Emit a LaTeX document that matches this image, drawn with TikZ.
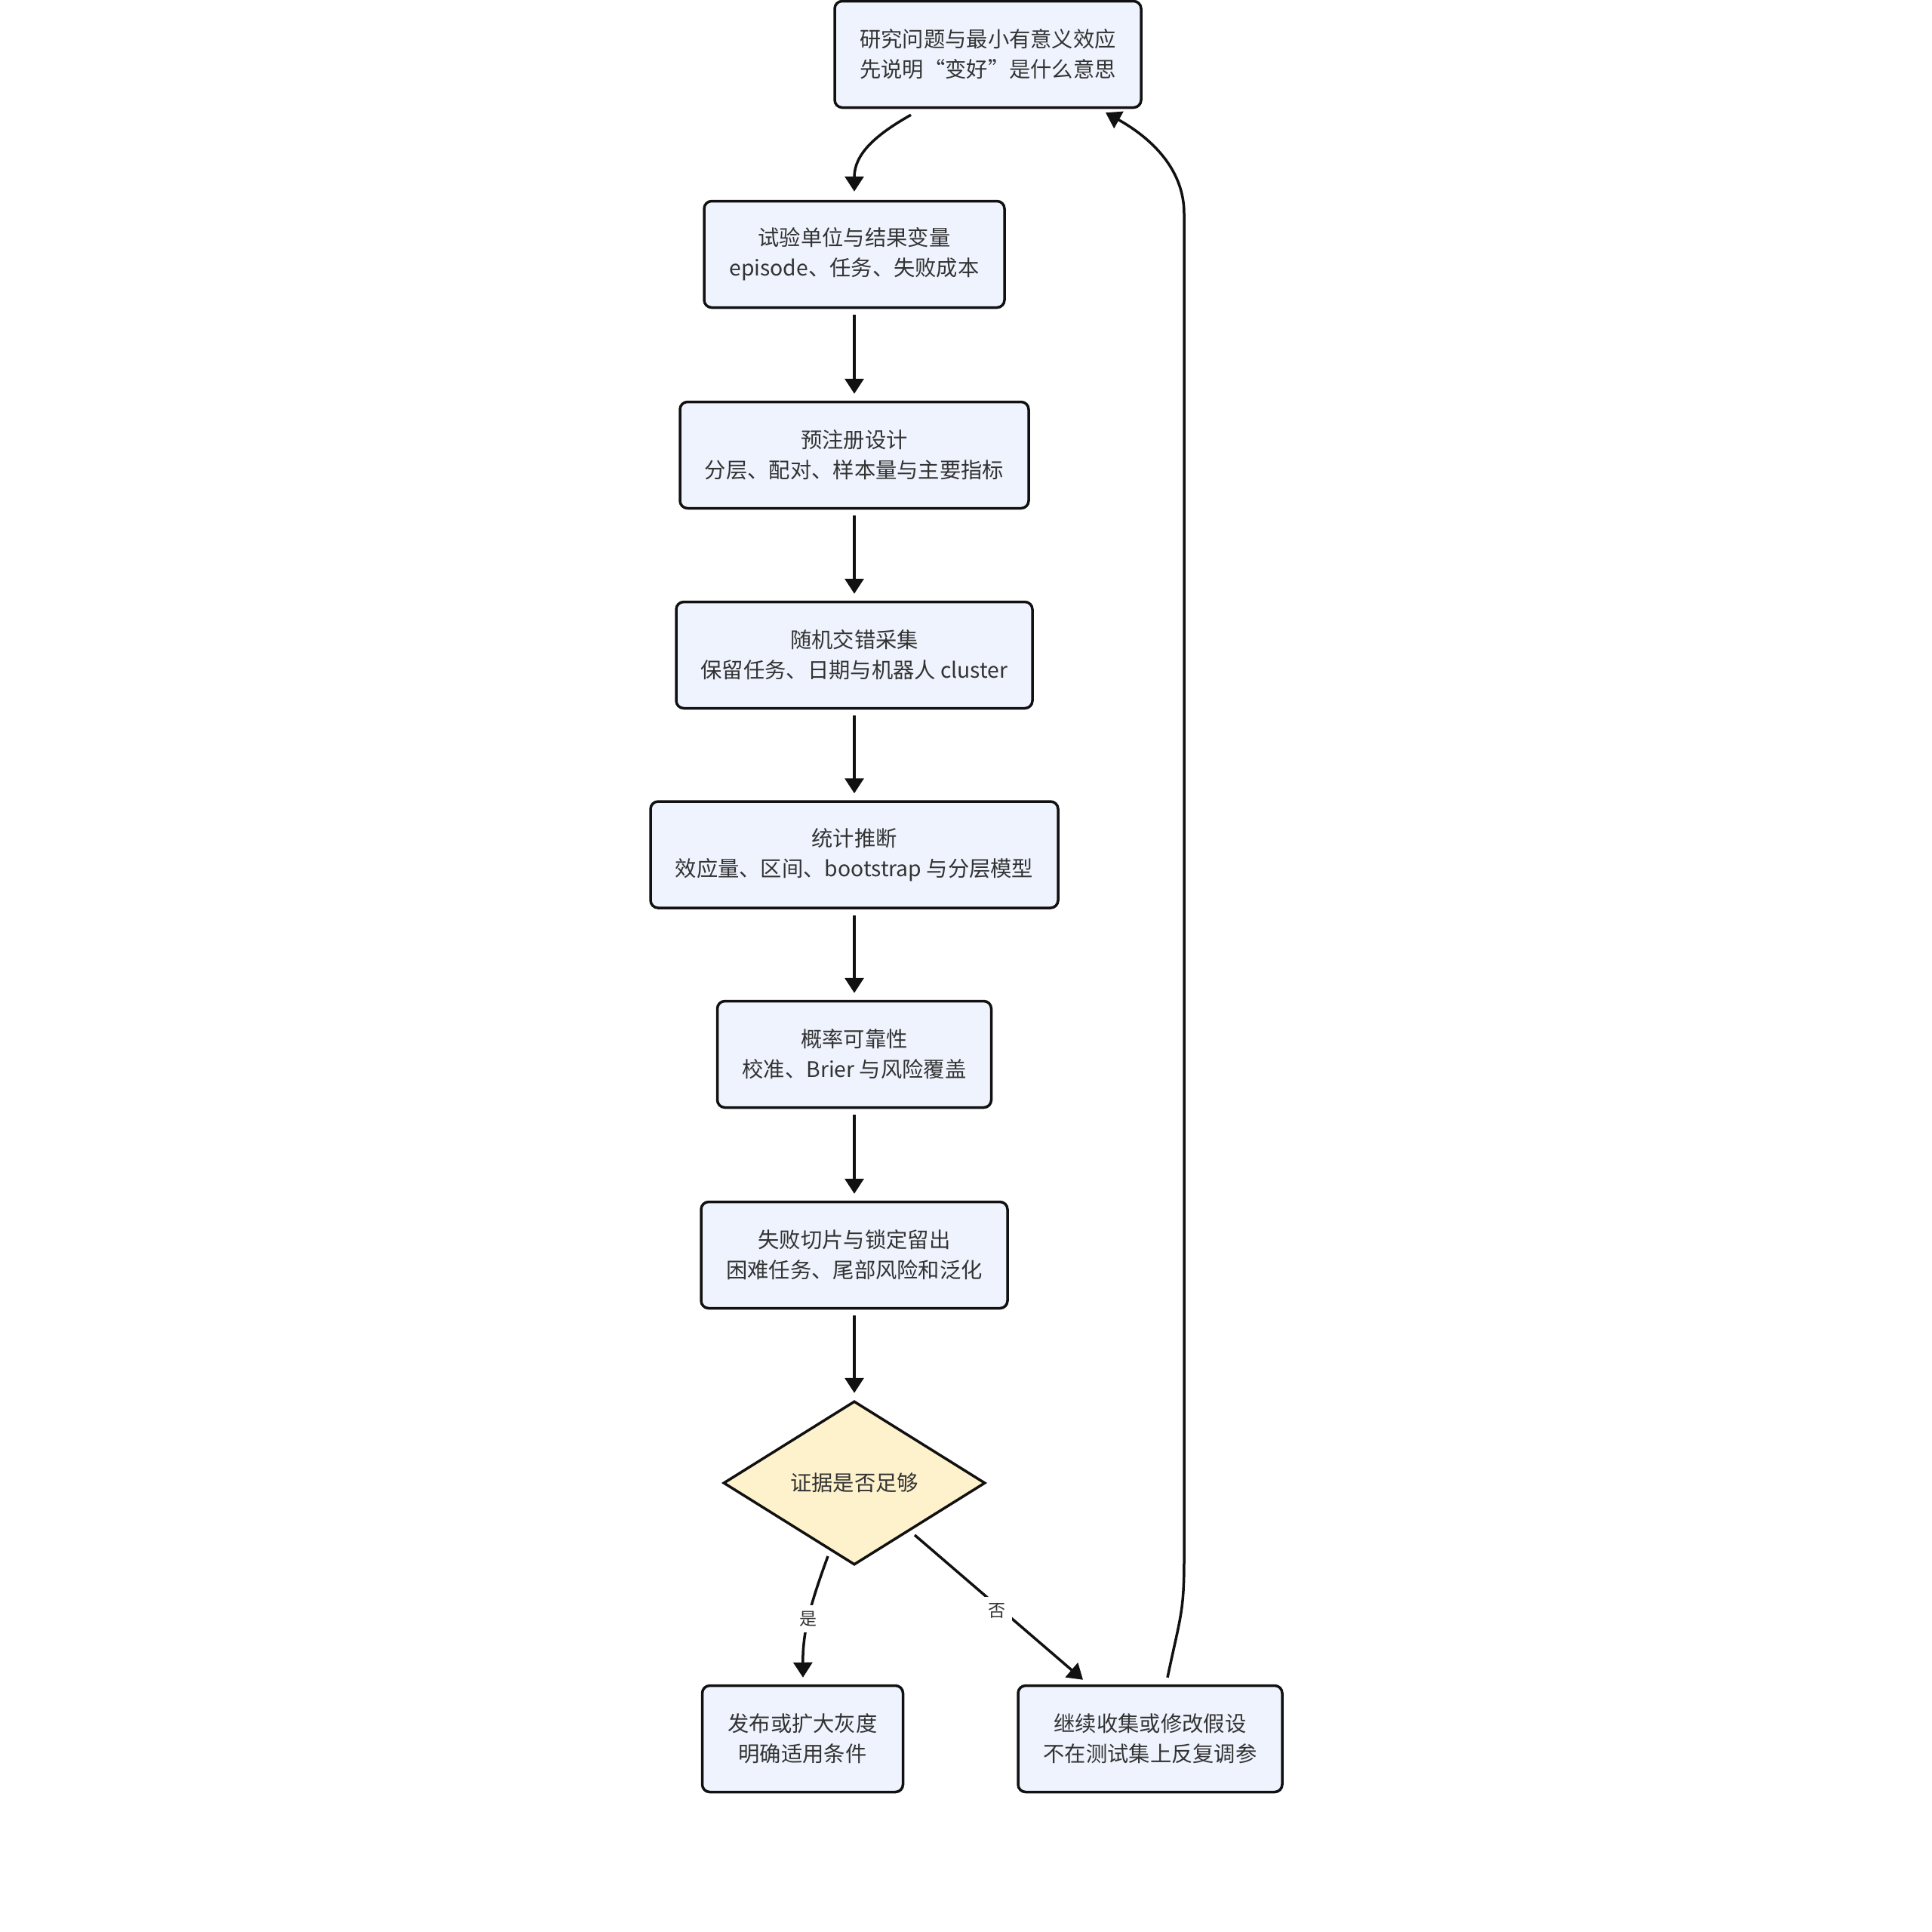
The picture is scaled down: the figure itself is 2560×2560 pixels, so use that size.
\documentclass[tikz,border=0pt]{standalone}
\usepackage{fontspec}
\setmainfont{Noto Sans CJK SC}
\usetikzlibrary{shapes.geometric,arrows.meta,calc}
\definecolor{boxfill}{HTML}{EEF3FD}
\definecolor{diafill}{HTML}{FEF2CD}
\definecolor{txt}{HTML}{333333}
\definecolor{edgec}{HTML}{111111}
\begin{document}
\begin{tikzpicture}[x=1pt,y=-1pt,
  box/.style={draw=edgec,fill=boxfill,line width=3.5pt,rounded corners=10pt,minimum height=141pt,align=center,inner sep=0pt,text=txt,font=\fontsize{28.3}{40}\selectfont},
  dec/.style={diamond,draw=edgec,fill=diafill,line width=3.5pt,minimum width=347pt,minimum height=217pt,inner sep=0pt,text=txt,font=\fontsize{28.3}{40}\selectfont},
  arr/.style={draw=edgec,line width=3.5pt,-{Triangle[length=20pt,width=25pt]}},
  lbl/.style={fill=white,text=txt,font=\fontsize{23}{28}\selectfont,inner sep=8pt}]
\fill[white] (0,0) rectangle (2560,2560);
\useasboundingbox (0,0) rectangle (2560,2560);
\node[box,minimum width=406pt] (b1) at (1309,72) {研究问题与最小有意义效应\\先说明“变好”是什么意思};
\node[box,minimum width=398pt] (b2) at (1132,337) {试验单位与结果变量\\episode、任务、失败成本};
\node[box,minimum width=462pt] (b3) at (1132,603) {预注册设计\\分层、配对、样本量与主要指标};
\node[box,minimum width=472pt] (b4) at (1132,868) {随机交错采集\\保留任务、日期与机器人 cluster};
\node[box,minimum width=540pt] (b5) at (1132,1132.5) {统计推断\\效应量、区间、bootstrap 与分层模型};
\node[box,minimum width=363pt] (b6) at (1132,1397) {概率可靠性\\校准、Brier 与风险覆盖};
\node[box,minimum width=406pt] (b7) at (1132,1663) {失败切片与锁定留出\\困难任务、尾部风险和泛化};
\node[dec] (d) at (1132,1965) {证据是否足够};
\node[box,minimum width=266pt] (byes) at (1063.5,2304) {发布或扩大灰度\\明确适用条件};
\node[box,minimum width=350pt] (bno) at (1524,2304) {继续收集或修改假设\\不在测试集上反复调参};

\draw[arr] ($(b1.south)+(-102,8)$) .. controls ($(b1.south)+(-150,35)$) and ($(b2.north)+(0,-60)$) .. ($(b2.north)+(0,-11)$);
\foreach \a/\b in {b2/b3,b3/b4,b4/b5,b5/b6,b6/b7,b7/d}{
  \draw[arr,shorten <=8pt,shorten >=9pt] (\a.south) -- (\b.north);
}
\draw[arr] ($(d.center)+(-35,97)$) .. controls ($(d.center)+(-58,160)$) and ($(byes.north)+(0,-70)$) .. ($(byes.north)+(0.5,-9)$);
\node[lbl] (ly) at (1071,2145) {是};
\draw[arr] ($(d.center)+(80,69)$) -- ($(bno.north)+(-89,-6)$);
\node[lbl] (ln) at (1321,2134) {否};
\draw[arr] ($(bno.north)+(23,-9)$) .. controls ($(bno.north)+(40,-90)$) and (1569,2137) .. (1569,2065) -- (1569,283) .. controls (1569,220) and ($(b1.south)+(210,35)$) .. ($(b1.south)+(156,5)$);
\end{tikzpicture}
\end{document}
